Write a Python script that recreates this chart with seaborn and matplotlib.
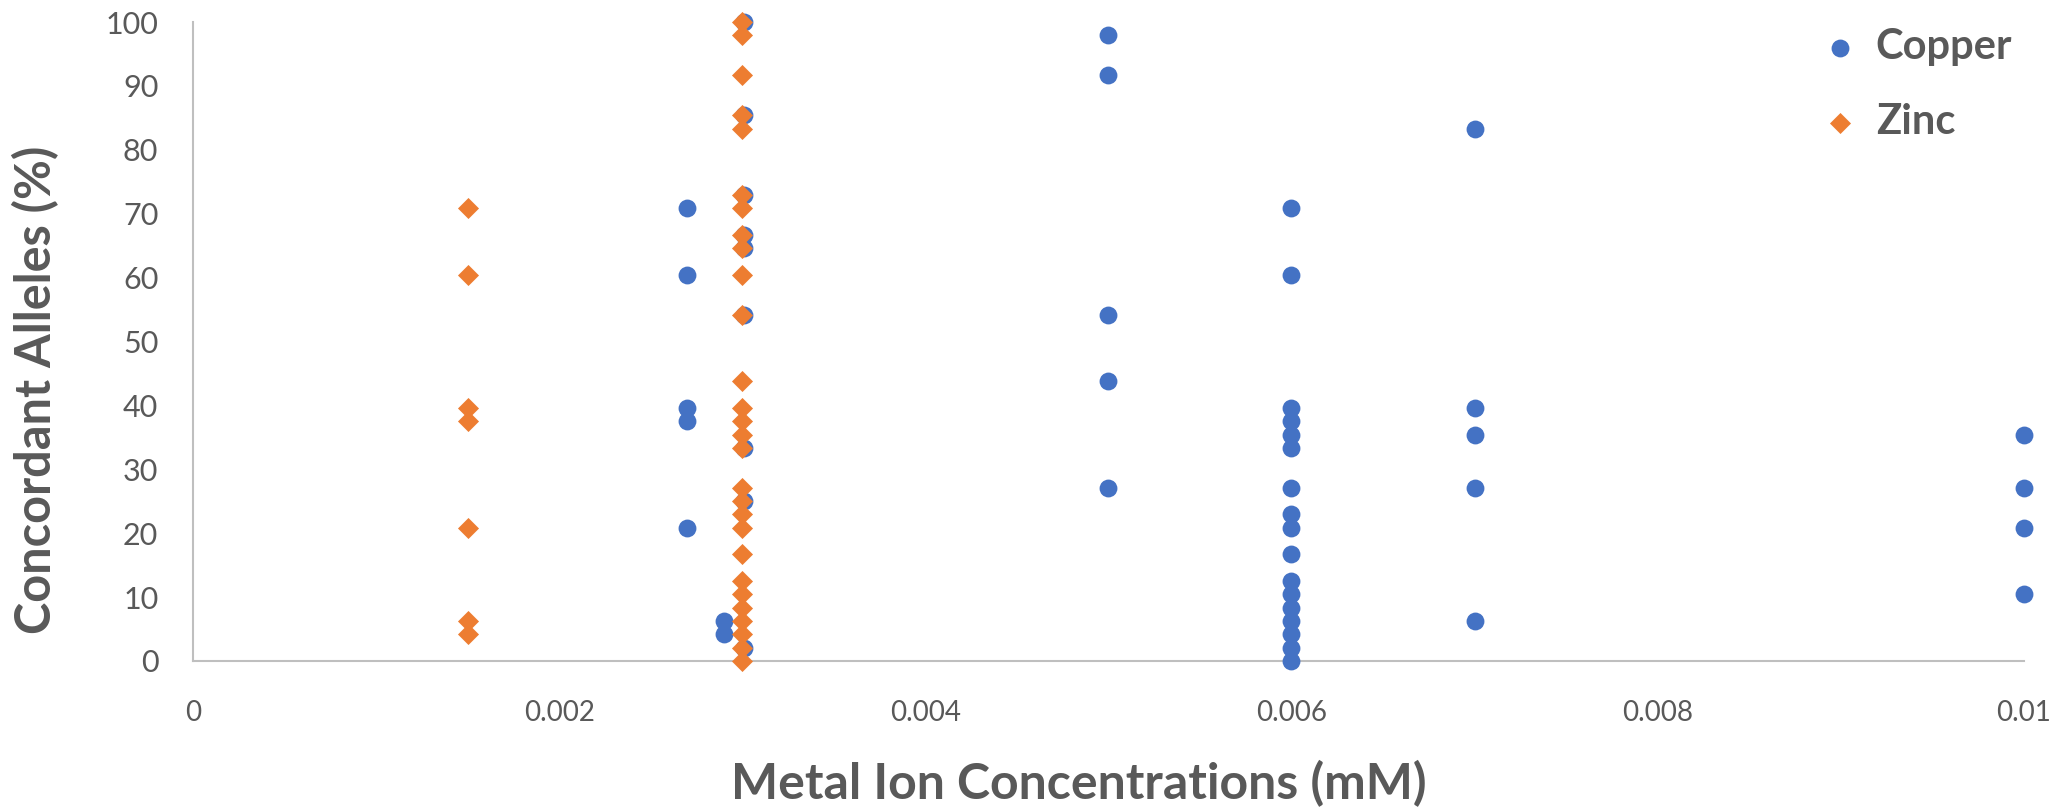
import pandas as pd
import seaborn as sns
import matplotlib.pyplot as plt
from matplotlib.ticker import FuncFormatter

# Copper series (mM, % concordant alleles)
copper_conc = [0.0027] * 5 + [0.0029] * 2 + [0.00301] * 9 + [0.005] * 5 + [0.006] * 17 + [0.007] * 5 + [0.01] * 4
copper_pct = [70.83, 60.42, 39.58, 37.5, 20.83,
              6.25, 4.17,
              100, 85.42, 72.92, 66.67, 64.58, 54.17, 33.33, 25.0, 2.08,
              97.92, 91.67, 54.17, 43.75, 27.08,
              70.83, 60.42, 39.58, 37.5, 35.42, 33.33, 27.08, 22.92, 20.83, 16.67, 12.5, 10.42, 8.33, 6.25, 4.17, 2.08, 0,
              83.33, 39.58, 35.42, 27.08, 6.25,
              35.42, 27.08, 20.83, 10.42]

# Zinc series
zinc_conc = [0.0015] * 7 + [0.003] * 28
zinc_pct = [70.83, 60.42, 39.58, 37.5, 20.83, 6.25, 4.17,
            100, 97.92, 91.67, 85.42, 83.33, 72.92, 70.83, 66.67, 64.58, 60.42, 54.17, 43.75,
            39.58, 37.5, 35.42, 33.33, 27.08, 25.0, 22.92, 20.83, 16.67, 12.5, 10.42, 8.33,
            6.25, 4.17, 2.08, 0]

x_ticks = [0, 0.002, 0.004, 0.006, 0.008, 0.01]
y_ticks = list(range(0, 101, 10))

df_cu = pd.DataFrame({'conc': copper_conc, 'pct': copper_pct})
df_zn = pd.DataFrame({'conc': zinc_conc, 'pct': zinc_pct})

sns.set_style('white')
plt.rcParams['font.family'] = ['Lato', 'DejaVu Sans']
grey = '#595959'

fig = plt.figure(figsize=(20.65, 8.07), dpi=100)
ax = fig.add_axes([0.0935, 0.181, 0.8865, 0.7917])

sns.scatterplot(data=df_cu, x='conc', y='pct', ax=ax, color='#4472C4', marker='o',
                s=165, linewidth=0, label='Copper', clip_on=False, zorder=3)
sns.scatterplot(data=df_zn, x='conc', y='pct', ax=ax, color='#ED7D31', marker='D',
                s=115, linewidth=0, label='Zinc', clip_on=False, zorder=4)

ax.set_xlim(0, 0.01)
ax.set_ylim(0, 100)
ax.set_xticks(x_ticks)
ax.set_yticks(y_ticks)
ax.xaxis.set_major_formatter(FuncFormatter(lambda v, p: '%g' % round(v, 4)))
ax.tick_params(axis='both', length=0, labelcolor=grey)
ax.tick_params(axis='y', pad=25, labelsize=22)
ax.tick_params(axis='x', pad=28, labelsize=20)

for side in ['top', 'right']:
    ax.spines[side].set_visible(False)
for side in ['left', 'bottom']:
    ax.spines[side].set_color('#BFBFBF')
    ax.spines[side].set_linewidth(1.5)

ax.set_xlabel('Metal Ion Concentrations (mM)', fontsize=36, fontweight='bold', color=grey, labelpad=18)
ax.xaxis.set_label_coords(0.484, -0.155)
ax.set_ylabel('Concordant Alleles (%)', fontsize=35, fontweight='bold', color=grey)
ax.yaxis.set_label_coords(-0.073, 0.425)

leg = ax.legend(loc='upper left', bbox_to_anchor=(0.868, 1.05), frameon=False,
                fontsize=30, handlelength=1.0, handletextpad=0.35, labelspacing=0.9, markerscale=1.0)
for t in leg.get_texts():
    t.set_color(grey)
    t.set_fontweight('bold')

fig.savefig('out.png', dpi=100)
